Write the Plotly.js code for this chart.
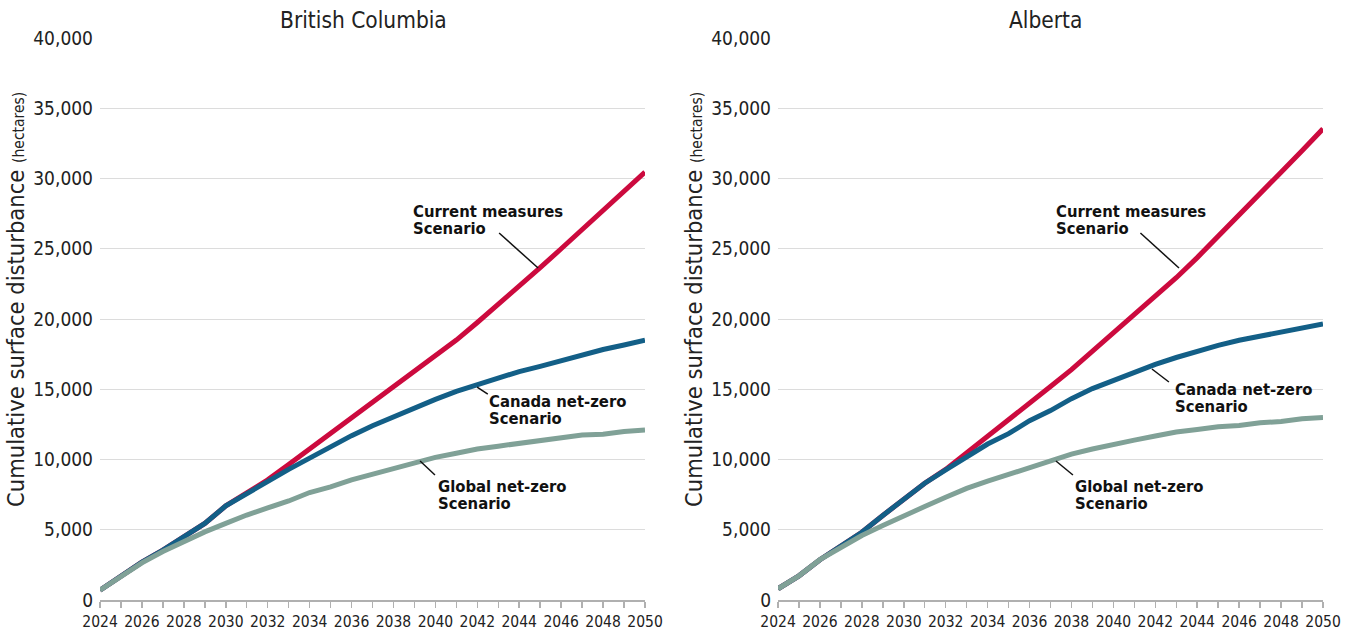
<!DOCTYPE html>
<html>
<head>
<meta charset="utf-8">
<script src="https://cdn.plot.ly/plotly-3.0.1.min.js"></script>
<style>html,body{margin:0;padding:0;background:#fff;}#chart{width:1352px;height:632px;}</style>
</head>
<body>
<div id="chart"></div>
<script>
const years = [2024,2025,2026,2027,2028,2029,2030,2031,2032,2033,2034,2035,2036,2037,2038,2039,2040,2041,2042,2043,2044,2045,2046,2047,2048,2049,2050];
const yearLabels = ["2024","","2026","","2028","","2030","","2032","","2034","","2036","","2038","","2040","","2042","","2044","","2046","","2048","","2050"];

const bcCurrent = [700,1700,2700,3550,4450,5450,6700,7600,8550,9650,10750,11850,12950,14050,15100,16200,17350,18500,19750,21050,22250,23650,25000,26350,27800,29150,30450];
const bcCanada  = [700,1700,2700,3550,4450,5450,6700,7600,8450,9300,10100,10950,11700,12400,13050,13700,14280,14850,15340,15770,16260,16630,17030,17490,17830,18150,18490];
const bcGlobal  = [700,1700,2650,3450,4150,4850,5450,6050,6550,7050,7650,8050,8550,8950,9350,9750,10150,10450,10750,10950,11150,11350,11550,11750,11800,12000,12100];

const abCurrent = [800,1720,2870,3870,4820,6020,7220,8310,9300,10460,11610,12760,13960,15190,16400,17690,18980,20270,21650,22940,24370,25860,27380,28960,30450,31970,33540];
const abCanada  = [800,1720,2870,3870,4820,6020,7220,8310,9260,10230,11100,11840,12760,13480,14330,15050,15630,16200,16770,17260,17720,18120,18490,18780,19070,19350,19640];
const abGlobal  = [800,1720,2870,3730,4590,5300,5930,6650,7310,7940,8460,8940,9460,9950,10380,10750,11100,11380,11670,11960,12130,12330,12420,12620,12700,12900,12990];

const panelTitles = ["British Columbia", "Alberta"];
const seriesNames = ["Current measures Scenario", "Canada net-zero Scenario", "Global net-zero Scenario"];
const yTitle = "Cumulative surface disturbance";
const yUnit = "(hectares)";
const labelLines = [["Current measures","Scenario"],["Canada net-zero","Scenario"],["Global net-zero","Scenario"]];

const RED = '#cc0a3e', BLUE = '#135f87', GREEN = '#80a197';
const FONT = '"DejaVu Sans Condensed", "DejaVu Sans", sans-serif';

function tr(x, y, color, name, xa, ya) {
  return {x: x, y: y, type: 'scatter', mode: 'lines', name: name, xaxis: xa, yaxis: ya,
    line: {color: color, width: 5}, cliponaxis: false, hoverinfo: 'skip'};
}
const data = [
  tr(years, bcCurrent, RED, seriesNames[0], 'x', 'y'),
  tr(years, bcCanada, BLUE, seriesNames[1], 'x', 'y'),
  tr(years, bcGlobal, GREEN, seriesNames[2], 'x', 'y'),
  tr(years, abCurrent, RED, seriesNames[0], 'x2', 'y2'),
  tr(years, abCanada, BLUE, seriesNames[1], 'x2', 'y2'),
  tr(years, abGlobal, GREEN, seriesNames[2], 'x2', 'y2')
];

function xax(domain, anchor) {
  return {domain: domain, anchor: anchor, range: [2024, 2050], showgrid: false, zeroline: false,
    showline: true, linecolor: '#b0b0b0', linewidth: 2,
    tickmode: 'array', tickvals: years, ticktext: yearLabels,
    ticks: 'outside', ticklen: 6, tickwidth: 1.5, tickcolor: '#b0b0b0',
    tickfont: {family: FONT, size: 15.5, color: '#222'}, fixedrange: true};
}
function yax(anchor) {
  return {domain: [0.0506, 0.9399], anchor: anchor, range: [0, 40000], dtick: 5000, tickformat: ',',
    showgrid: true, gridcolor: '#dcdcdc', gridwidth: 1, zeroline: false, showline: false,
    ticks: '', ticklabelstandoff: 6,
    tickfont: {family: FONT, size: 19, color: '#222'}, fixedrange: true};
}

const ann = [];
const shapes = [];
function panelLabels(xref, yref, pos, leaders) {
  pos.forEach((p, i) => {
    ann.push({xref: xref, yref: yref, x: p[0], y: p[1], text: '<b>' + labelLines[i][0] + '</b>', showarrow: false,
      xanchor: 'left', yanchor: 'middle', font: {family: FONT, size: 16.5, color: '#111'}});
    ann.push({xref: xref, yref: yref, x: p[0], y: p[2], text: '<b>' + labelLines[i][1] + '</b>', showarrow: false,
      xanchor: 'left', yanchor: 'middle', font: {family: FONT, size: 16.5, color: '#111'}});
  });
  leaders.forEach(l => {
    shapes.push({type: 'line', xref: xref, yref: yref, x0: l[0], y0: l[1], x1: l[2], y1: l[3],
      line: {color: '#111', width: 1.5}});
  });
}
panelLabels('x', 'y',
  [[2038.85, 27616, 26406], [2042.45, 14164, 12954], [2040.05, 8114, 6904]],
  [[2043.04, 26120, 2044.9, 23630], [2041.99, 15160, 2042.5, 14650], [2039.27, 9893, 2039.98, 8897]]);
panelLabels('x2', 'y2',
  [[2037.16, 27616, 26406], [2042.85, 15018, 13808], [2038.05, 8114, 6904]],
  [[2041.29, 26120, 2043.13, 23630], [2041.84, 16441, 2042.65, 15516], [2037.26, 9893, 2038.07, 8897]]);

// panel titles
ann.push({xref: 'paper', yref: 'paper', x: 363/1352, y: (632-20)/632, text: panelTitles[0], showarrow: false,
  xanchor: 'center', yanchor: 'middle', font: {family: FONT, size: 22.5, color: '#222'}});
ann.push({xref: 'paper', yref: 'paper', x: 1045/1352, y: (632-20)/632, text: panelTitles[1], showarrow: false,
  xanchor: 'center', yanchor: 'middle', font: {family: FONT, size: 22.5, color: '#222'}});
// y axis titles
[16, 694].forEach(px => {
  ann.push({xref: 'paper', yref: 'paper', x: px/1352, y: (632-300)/632, textangle: -90,
    text: yTitle + ' <span style="font-size:15.5px">' + yUnit + '</span>', showarrow: false,
    xanchor: 'center', yanchor: 'middle', font: {family: FONT, size: 23.5, color: '#222'}});
});

const layout = {
  width: 1352, height: 632, margin: {l: 0, r: 0, t: 0, b: 0},
  paper_bgcolor: '#fff', plot_bgcolor: '#fff', showlegend: false,
  xaxis: xax([100/1352, 645/1352], 'y'),
  yaxis: yax('x'),
  xaxis2: xax([778/1352, 1323/1352], 'y2'),
  yaxis2: yax('x2'),
  annotations: ann, shapes: shapes
};
Plotly.newPlot('chart', data, layout, {displayModeBar: false, staticPlot: true});
</script>
</body>
</html>
